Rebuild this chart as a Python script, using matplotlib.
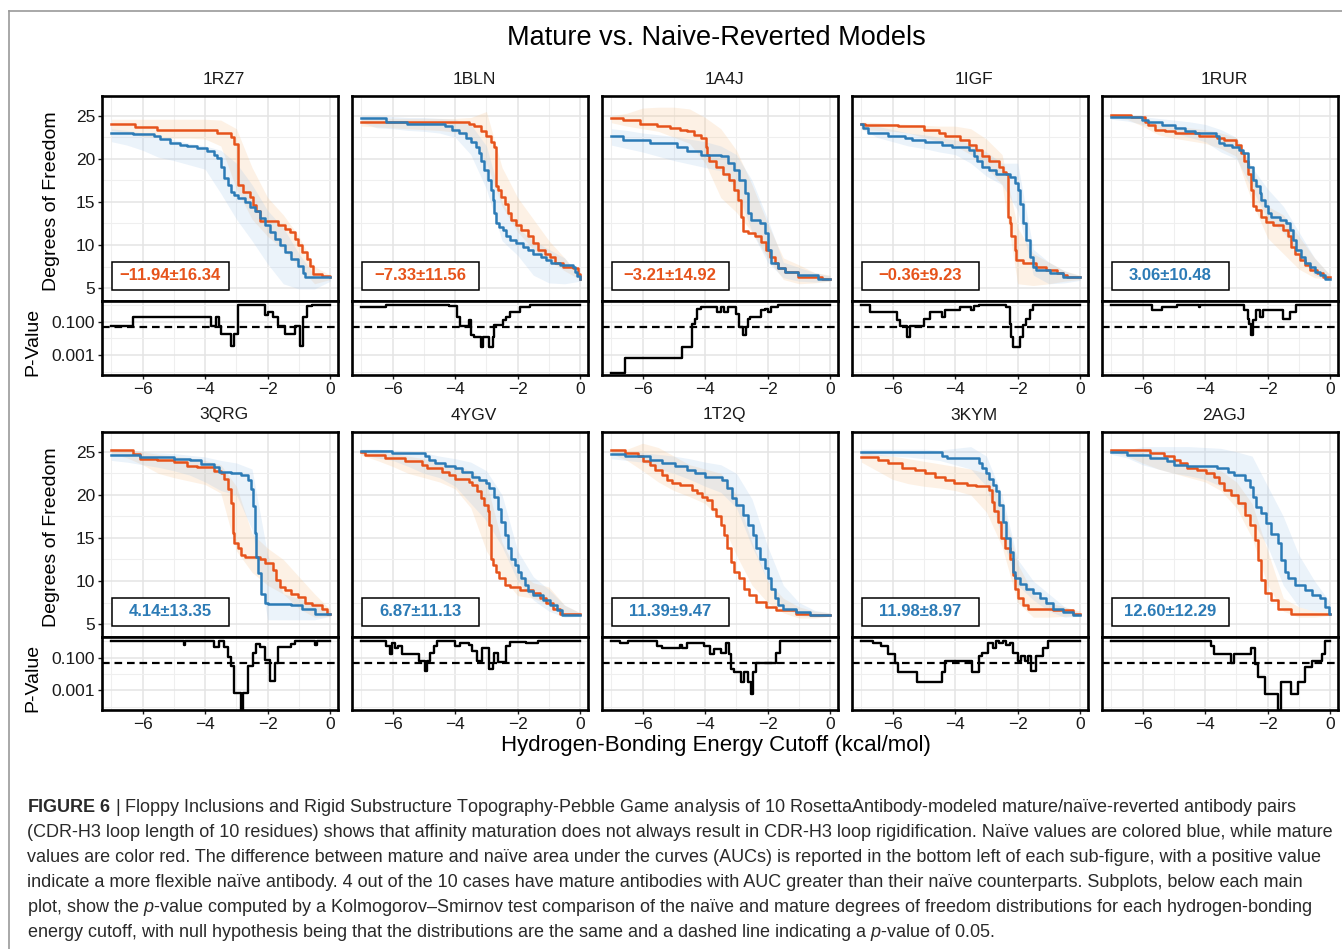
import numpy as np
import matplotlib
matplotlib.use('Agg')
import matplotlib.pyplot as plt
from matplotlib.patches import Rectangle
from matplotlib.lines import Line2D
from matplotlib.ticker import FixedLocator, NullFormatter
from matplotlib import font_manager

# ---------------- data ----------------
panels = ['1RZ7', '1BLN', '1A4J', '1IGF', '1RUR', '3QRG', '4YGV', '1T2Q', '3KYM', '2AGJ']
auc_mean = [-11.94, -7.33, -3.21, -0.36, 3.06, 4.14, 6.87, 11.39, 11.98, 12.60]
auc_sd = [16.34, 11.56, 14.92, 9.23, 10.48, 13.35, 11.13, 9.47, 8.97, 12.29]

x_ticks = [-6, -4, -2, 0]
dof_ticks = [5, 10, 15, 20, 25]
p_ticks = [0.1, 0.001]
p_tick_labels = ['0.100', '0.001']
p_threshold = 0.05

mature_x = [
    [-7, -6.24, -5.54, -3.61, -3.18, -3.07, -2.96, -2.94, -2.80, -2.58, -2.48, -2.37, -2.26, -1.67, -1.45, -1.29, -1.13, -1.02, -0.91, -0.75, -0.65, -0.54, -0.27, 0],
    [-7, -3.56, -3.39, -3.18, -3.02, -2.86, -2.75, -2.69, -2.64, -2.53, -2.42, -2.32, -2.21, -2.05, -1.89, -1.67, -1.51, -1.35, -1.13, -0.97, -0.81, -0.54, -0.22, -0.08, 0],
    [-7, -6.62, -6.08, -5.54, -5.11, -4.79, -4.57, -4.36, -4.14, -3.98, -3.93, -3.88, -3.66, -3.44, -3.23, -3.07, -2.96, -2.85, -2.80, -2.64, -2.42, -2.21, -2.05, -1.94, -1.78, -1.67, -1.45, -1.02, -0.27, 0],
    [-7, -6.90, -5.82, -5.01, -4.53, -4.31, -3.83, -3.56, -3.34, -3.13, -2.91, -2.59, -2.48, -2.37, -2.32, -2.26, -2.21, -2.10, -2.05, -1.83, -1.40, -1.08, -0.75, -0.54, -0.43, 0],
    [-7, -6.36, -5.93, -5.82, -5.60, -5.28, -4.96, -4.20, -3.61, -3.39, -3.02, -2.86, -2.75, -2.64, -2.53, -2.48, -2.37, -2.21, -2.05, -1.83, -1.51, -1.35, -1.24, -1.13, -0.97, -0.81, -0.65, -0.43, -0.22, 0],
    [-7, -6.30, -6.08, -5.54, -5.01, -4.57, -4.25, -3.71, -3.50, -3.39, -3.28, -3.18, -3.12, -3.07, -2.96, -2.85, -2.74, -2.26, -2.10, -1.83, -1.72, -1.61, -1.45, -1.24, -1.02, -0.81, -0.59, -0.27, -0.11, 0],
    [-7, -6.90, -6.25, -5.60, -5.06, -4.90, -4.42, -4.20, -3.99, -3.56, -3.45, -3.29, -3.18, -3.07, -2.96, -2.91, -2.86, -2.80, -2.69, -2.59, -2.42, -2.26, -1.94, -1.51, -1.29, -1.08, -0.86, -0.65, 0],
    [-7, -6.57, -6.14, -5.98, -5.77, -5.60, -5.39, -5.23, -5.06, -4.80, -4.42, -4.26, -4.09, -3.93, -3.77, -3.66, -3.50, -3.39, -3.29, -3.18, -3.07, -2.91, -2.75, -2.59, -2.37, -2.05, -1.72, -1.08, -0.65, 0],
    [-7, -6.47, -6.14, -5.71, -5.28, -4.96, -4.63, -4.31, -4.04, -3.61, -3.34, -2.91, -2.82, -2.75, -2.64, -2.53, -2.42, -2.26, -2.16, -2.10, -1.99, -1.83, -1.67, -0.86, -0.22, 0],
    [-7, -5.76, -5.33, -5.01, -4.79, -4.57, -4.25, -3.98, -3.71, -3.55, -3.39, -3.18, -2.96, -2.74, -2.58, -2.42, -2.31, -2.21, -2.10, -1.88, -1.67, -1.24, 0],
]
mature_y = [
    [24.0, 23.7, 23.4, 23.0, 22.5, 21.7, 20.7, 17.0, 16.2, 15.6, 14.6, 13.9, 12.8, 12.3, 11.9, 11.5, 10.7, 10.0, 9.2, 8.4, 7.6, 6.6, 6.4, 6.25],
    [24.3, 24.1, 23.8, 23.2, 22.6, 22.0, 21.4, 16.8, 16.4, 15.6, 14.8, 13.7, 12.9, 12.3, 11.7, 11.0, 10.2, 9.4, 9.0, 8.6, 7.9, 7.5, 7.3, 6.6, 6.1],
    [24.7, 24.5, 24.1, 23.8, 23.6, 23.4, 23.2, 22.8, 22.4, 21.4, 20.5, 19.7, 19.1, 18.3, 17.6, 16.4, 15.2, 13.3, 11.6, 11.4, 11.0, 10.4, 9.4, 8.6, 7.9, 7.3, 6.9, 6.3, 6.1, 6.1],
    [24.1, 23.95, 23.8, 23.4, 23.0, 22.6, 22.2, 21.6, 21.0, 20.3, 19.7, 19.1, 18.5, 18.3, 13.3, 12.5, 11.0, 9.4, 8.3, 7.9, 7.5, 7.1, 6.7, 6.5, 6.3, 6.3],
    [25.1, 24.9, 24.3, 23.95, 23.4, 23.2, 23.0, 22.6, 22.4, 22.2, 21.6, 20.7, 19.7, 18.3, 16.4, 14.5, 14.1, 13.3, 12.7, 12.3, 11.7, 11.0, 9.8, 9.0, 8.3, 7.7, 7.1, 6.7, 6.3, 6.3],
    [25.2, 24.8, 24.2, 24.0, 23.8, 23.4, 23.2, 22.8, 22.5, 21.9, 20.7, 19.1, 15.6, 14.4, 13.8, 13.0, 12.8, 12.5, 12.1, 11.3, 10.1, 9.3, 8.9, 8.5, 8.1, 7.5, 7.2, 6.8, 6.2, 6.2],
    [25.0, 24.65, 24.3, 23.9, 23.5, 23.1, 22.7, 22.3, 21.9, 21.55, 21.2, 20.4, 19.6, 18.8, 18.1, 16.5, 12.6, 11.9, 11.1, 10.3, 9.5, 9.3, 8.95, 8.6, 8.0, 7.4, 6.8, 6.2, 6.2],
    [25.2, 24.85, 24.5, 23.9, 23.5, 22.9, 22.3, 21.7, 21.4, 21.2, 20.6, 20.2, 19.8, 19.4, 18.4, 17.5, 16.5, 15.3, 13.8, 12.2, 11.1, 10.3, 9.1, 8.4, 7.6, 7.0, 6.6, 6.2, 6.1, 6.1],
    [24.4, 24.1, 23.7, 23.1, 22.9, 22.5, 22.1, 21.7, 21.4, 21.2, 21.0, 20.6, 19.2, 18.1, 16.9, 15.0, 13.8, 12.6, 10.7, 9.1, 8.0, 7.2, 6.8, 6.6, 6.2, 6.2],
    [25.2, 24.85, 24.5, 24.1, 23.7, 23.1, 22.9, 22.5, 22.1, 21.4, 20.6, 20.0, 19.0, 17.7, 16.5, 14.8, 12.4, 10.1, 8.6, 7.8, 6.8, 6.2, 6.2],
]
naive_x = [
    [-7, -6.30, -5.65, -5.44, -5.11, -4.79, -4.57, -4.25, -3.93, -3.71, -3.61, -3.50, -3.39, -3.28, -3.18, -3.07, -2.96, -2.74, -2.58, -2.42, -2.26, -2.10, -1.94, -1.78, -1.61, -1.45, -1.24, -1.02, -0.86, -0.81, 0],
    [-7, -6.20, -5.55, -4.31, -4.09, -3.88, -3.66, -3.50, -3.34, -3.23, -3.18, -3.07, -2.96, -2.86, -2.80, -2.75, -2.69, -2.59, -2.48, -2.37, -2.26, -2.05, -1.83, -1.67, -1.51, -1.24, -1.08, -0.92, -0.65, -0.22, -0.16, -0.09, 0],
    [-7, -6.62, -5.76, -4.90, -4.57, -4.14, -3.50, -3.28, -3.07, -2.91, -2.74, -2.64, -2.53, -2.26, -2.10, -1.99, -1.88, -1.67, -1.45, -1.02, -0.38, 0],
    [-7, -6.95, -6.79, -6.14, -5.60, -5.39, -4.96, -4.42, -4.09, -3.56, -3.39, -3.29, -3.13, -2.91, -2.69, -2.26, -2.10, -1.99, -1.94, -1.83, -1.72, -1.62, -1.51, -1.40, -0.97, -0.54, 0],
    [-7, -6.03, -5.82, -5.39, -4.96, -4.63, -4.31, -3.66, -3.56, -3.39, -3.13, -2.91, -2.80, -2.64, -2.48, -2.37, -2.26, -2.21, -2.10, -1.99, -1.89, -1.62, -1.40, -1.29, -1.18, -1.08, -0.92, -0.81, -0.65, -0.48, -0.32, -0.16, 0],
    [-7, -6.08, -5.01, -4.47, -4.14, -3.71, -3.55, -3.18, -2.85, -2.64, -2.53, -2.48, -2.42, -2.37, -2.31, -2.21, -2.10, -1.99, -1.24, -0.91, -0.48, 0],
    [-7, -6.03, -4.96, -4.85, -4.63, -4.31, -3.99, -3.77, -3.45, -3.23, -3.02, -2.91, -2.75, -2.64, -2.53, -2.42, -2.32, -2.21, -2.10, -1.99, -1.89, -1.78, -1.67, -1.51, -1.19, -0.97, -0.75, -0.59, 0],
    [-7, -6.57, -5.77, -5.39, -4.96, -4.58, -4.31, -3.99, -3.45, -3.29, -3.13, -3.02, -2.80, -2.64, -2.48, -2.37, -2.26, -2.10, -1.99, -1.89, -1.78, -1.67, -1.51, -1.08, -0.65, 0],
    [-7, -4.42, -4.26, -3.23, -3.13, -3.02, -2.91, -2.80, -2.69, -2.59, -2.48, -2.37, -2.26, -2.16, -2.10, -1.94, -1.72, -1.51, -1.29, -1.08, -0.86, -0.54, -0.22, 0],
    [-7, -6.51, -5.76, -5.22, -5.01, -4.57, -3.61, -3.28, -3.07, -2.74, -2.58, -2.48, -2.37, -2.21, -2.05, -1.88, -1.67, -1.56, -1.45, -1.35, -1.13, -0.81, -0.59, -0.32, -0.16, -0.05, 0],
]
naive_y = [
    [23.05, 22.85, 22.66, 22.27, 21.9, 21.6, 21.5, 21.3, 20.9, 20.5, 20.1, 19.0, 17.8, 17.0, 16.2, 15.8, 15.4, 15.0, 14.45, 13.9, 13.1, 12.3, 11.5, 10.7, 9.96, 9.2, 8.4, 7.6, 6.8, 6.25, 6.25],
    [24.7, 24.3, 24.1, 23.8, 23.4, 23.0, 22.4, 22.0, 21.4, 20.7, 19.7, 18.7, 17.6, 16.4, 15.2, 13.7, 12.5, 12.1, 11.7, 11.0, 10.6, 10.2, 9.8, 9.4, 9.0, 8.6, 8.3, 7.9, 7.7, 7.5, 6.9, 6.4, 6.1],
    [22.6, 22.2, 21.8, 21.4, 20.9, 20.5, 20.3, 19.5, 18.7, 17.6, 16.0, 13.7, 12.9, 12.5, 11.4, 9.4, 7.9, 7.3, 6.9, 6.5, 6.1, 6.1],
    [24.1, 23.6, 23.0, 22.6, 22.4, 22.2, 22.0, 21.6, 21.4, 21.0, 20.3, 19.7, 19.1, 18.7, 18.3, 17.9, 17.2, 16.4, 14.8, 12.5, 10.6, 8.6, 7.5, 7.1, 6.7, 6.3, 6.3],
    [24.9, 24.5, 24.3, 23.95, 23.6, 23.2, 23.0, 22.6, 21.8, 21.6, 21.4, 21.0, 20.7, 19.1, 17.6, 16.8, 16.0, 15.2, 14.5, 13.7, 13.3, 12.9, 12.5, 11.7, 10.6, 9.4, 8.6, 7.9, 7.5, 6.9, 6.5, 6.1, 6.1],
    [24.6, 24.4, 24.2, 24.0, 23.6, 23.2, 22.6, 22.5, 22.3, 21.7, 20.7, 18.7, 15.6, 12.8, 10.9, 8.5, 7.5, 7.35, 7.2, 6.8, 6.2, 6.2],
    [25.1, 24.85, 24.5, 24.1, 23.7, 23.3, 23.1, 22.7, 22.1, 21.7, 21.4, 20.8, 19.8, 18.4, 16.9, 15.3, 13.8, 12.6, 11.9, 11.1, 10.3, 9.5, 8.8, 8.4, 7.8, 7.2, 6.6, 6.1, 6.1],
    [24.7, 24.5, 24.1, 23.7, 23.3, 22.9, 22.5, 22.1, 21.7, 20.8, 19.6, 18.8, 17.7, 16.5, 15.3, 13.8, 12.6, 11.5, 10.3, 9.1, 8.0, 7.2, 6.8, 6.4, 6.1, 6.1],
    [24.95, 24.5, 24.3, 23.7, 23.1, 22.5, 21.9, 21.2, 20.4, 18.8, 16.9, 15.0, 13.4, 11.1, 10.3, 9.7, 9.1, 8.6, 8.0, 7.4, 6.8, 6.4, 6.1, 6.1],
    [25.0, 24.65, 24.3, 23.9, 23.5, 23.3, 23.1, 22.7, 22.3, 21.7, 20.9, 19.8, 18.6, 17.9, 16.7, 15.5, 14.4, 12.4, 11.1, 10.3, 9.5, 9.0, 8.4, 8.0, 7.0, 6.2, 6.2],
]

band_x = [-7, -6.5, -6, -5.5, -5, -4.5, -4, -3.5, -3, -2.5, -2, -1.5, -1, -0.5, 0]
mature_lo = [
    [23.3, 23.0, 22.6, 22.5, 22.4, 22.4, 22.3, 21.5, 16.5, 13.0, 11.0, 9.5, 7.5, 5.5, 6.0],
    [23.8, 23.7, 23.6, 23.5, 23.4, 23.3, 23.1, 22.5, 19.5, 14.5, 11.5, 9.5, 8.2, 7.0, 6.0],
    [24.2, 23.8, 23.5, 23.2, 22.5, 21.8, 19.5, 15.5, 13.8, 11.5, 8.5, 6.0, 5.5, 5.6, 5.8],
    [23.4, 23.3, 23.2, 23.0, 22.5, 22.0, 21.5, 20.5, 19.0, 17.0, 5.5, 5.3, 5.5, 5.8, 6.0],
    [24.8, 24.6, 23.8, 22.8, 22.4, 22.1, 21.8, 21.2, 20.3, 15.0, 10.8, 9.0, 7.2, 6.2, 6.0],
    [24.8, 24.3, 23.5, 22.5, 22.0, 21.6, 21.2, 20.2, 13.5, 11.0, 9.5, 8.5, 6.8, 5.8, 5.9],
    [24.6, 24.0, 23.3, 22.5, 22.0, 21.5, 20.7, 18.5, 13.5, 10.5, 8.3, 8.0, 7.2, 6.0, 6.0],
    [24.8, 24.0, 22.8, 21.5, 20.5, 19.8, 19.0, 17.0, 13.0, 9.5, 7.5, 6.3, 5.7, 5.7, 5.9],
    [23.8, 22.8, 21.8, 21.3, 21.0, 20.8, 20.5, 20.0, 18.0, 14.0, 7.5, 5.8, 5.8, 5.9, 6.0],
    [25.0, 24.5, 23.7, 23.0, 22.5, 22.0, 21.5, 20.5, 18.5, 15.0, 9.5, 6.5, 5.8, 5.8, 6.0],
]
mature_hi = [
    [24.6, 24.6, 24.6, 24.6, 24.6, 24.6, 24.6, 24.5, 23.5, 19.0, 15.5, 13.5, 11.0, 7.5, 6.5],
    [24.7, 24.7, 24.7, 24.7, 24.7, 24.7, 24.7, 24.8, 25.5, 19.0, 15.5, 13.0, 10.5, 8.5, 6.3],
    [25.0, 25.3, 25.9, 26.0, 26.0, 25.8, 24.8, 23.5, 21.0, 17.0, 12.5, 8.5, 7.7, 6.8, 6.5],
    [24.3, 24.2, 24.1, 24.0, 23.9, 23.8, 23.8, 23.5, 22.3, 20.5, 12.0, 9.0, 8.0, 7.0, 6.5],
    [25.3, 25.1, 24.8, 24.2, 23.8, 23.6, 23.4, 23.0, 22.5, 19.0, 14.5, 13.5, 11.0, 8.5, 6.5],
    [25.4, 25.2, 25.0, 24.7, 24.5, 24.3, 24.0, 23.5, 21.0, 15.5, 13.8, 12.5, 10.5, 8.5, 6.7],
    [25.2, 25.0, 24.8, 24.5, 24.2, 23.8, 23.4, 22.8, 21.5, 14.5, 11.0, 9.8, 9.3, 7.2, 6.3],
    [25.4, 25.3, 26.0, 25.5, 24.5, 23.5, 23.0, 22.5, 20.0, 14.5, 10.0, 8.0, 7.0, 6.5, 6.3],
    [24.9, 24.7, 24.5, 24.2, 23.9, 23.6, 23.3, 23.0, 22.5, 19.0, 12.0, 8.5, 7.5, 7.0, 6.5],
    [25.3, 25.2, 24.9, 24.5, 24.0, 23.5, 23.2, 22.8, 21.5, 19.0, 13.5, 8.0, 7.0, 6.5, 6.4],
]
naive_lo = [
    [22.0, 21.6, 21.0, 20.2, 19.8, 19.3, 18.8, 16.0, 13.0, 10.5, 7.8, 5.5, 4.9, 4.9, 5.8],
    [24.2, 23.6, 23.5, 23.3, 23.2, 23.0, 22.5, 20.5, 16.5, 10.5, 8.8, 6.5, 5.6, 5.5, 5.8],
    [21.6, 21.2, 20.8, 20.3, 19.8, 19.4, 19.0, 18.6, 16.5, 11.5, 8.0, 6.2, 5.8, 5.7, 5.8],
    [23.5, 22.5, 22.0, 21.5, 21.2, 20.8, 20.5, 19.5, 18.0, 17.0, 14.0, 6.5, 5.5, 5.6, 5.9],
    [24.6, 24.4, 24.0, 23.5, 23.0, 22.5, 22.0, 20.8, 20.0, 16.5, 13.0, 11.5, 8.8, 6.5, 5.9],
    [24.0, 23.8, 23.5, 23.2, 22.8, 22.3, 21.5, 20.5, 20.0, 16.0, 5.5, 5.5, 5.5, 5.5, 5.9],
    [24.7, 24.3, 24.0, 23.3, 22.5, 22.0, 21.0, 19.0, 17.0, 14.0, 10.0, 7.8, 6.5, 5.8, 5.9],
    [24.2, 24.0, 23.8, 23.0, 22.5, 21.8, 21.0, 20.3, 18.5, 14.0, 10.0, 7.0, 6.0, 5.8, 5.9],
    [24.6, 24.6, 24.5, 24.4, 24.2, 24.0, 23.5, 23.0, 21.0, 15.0, 9.5, 7.8, 6.5, 5.8, 5.9],
    [24.7, 24.3, 23.5, 23.0, 22.5, 22.2, 21.8, 21.0, 19.5, 17.0, 14.0, 9.5, 7.0, 6.5, 6.4],
]
naive_hi = [
    [23.5, 23.3, 23.0, 22.5, 22.2, 21.8, 21.5, 21.0, 19.5, 17.0, 14.0, 12.0, 9.0, 6.5, 6.3],
    [25.0, 25.0, 24.9, 24.8, 24.8, 24.7, 24.6, 24.0, 21.5, 15.0, 12.0, 10.5, 9.5, 8.5, 6.3],
    [23.5, 23.3, 23.0, 22.8, 22.6, 22.3, 22.0, 21.5, 20.5, 17.5, 13.0, 8.0, 7.4, 6.8, 6.4],
    [24.1, 23.8, 23.4, 23.0, 22.8, 22.5, 22.2, 21.8, 20.8, 19.5, 19.5, 9.5, 8.0, 7.0, 6.4],
    [25.2, 25.1, 24.9, 24.7, 24.5, 24.3, 24.0, 23.4, 22.5, 19.0, 16.5, 14.5, 11.5, 8.5, 6.5],
    [25.3, 25.2, 25.0, 24.9, 24.8, 24.6, 24.4, 24.0, 23.7, 23.0, 13.0, 8.5, 8.0, 7.3, 6.5],
    [25.3, 25.3, 25.2, 25.1, 24.9, 24.5, 24.2, 23.8, 22.8, 20.0, 13.5, 10.5, 9.0, 7.2, 6.3],
    [25.2, 25.0, 24.9, 24.7, 24.5, 24.2, 23.8, 23.5, 22.5, 19.5, 14.0, 9.5, 7.5, 6.6, 6.3],
    [25.3, 25.3, 25.3, 25.3, 25.3, 25.2, 25.4, 25.6, 24.5, 20.0, 12.5, 10.0, 8.5, 7.0, 6.3],
    [25.3, 25.2, 25.6, 25.6, 25.6, 25.6, 25.5, 25.4, 25.0, 24.5, 21.0, 17.5, 13.0, 10.0, 7.5],
]

pval_x = [
    [-7, -6.30, -3.82, -3.66, -3.55, -3.50, -3.18, -3.07, -2.96, -2.10, -1.99, -1.83, -1.67, -1.45, -1.13, -0.97, -0.86, -0.75, -0.59, 0],
    [-7, -6.2, -4.2, -3.93, -3.83, -3.56, -3.50, -3.39, -3.18, -3.12, -2.91, -2.80, -2.75, -2.48, -2.37, -2.26, -1.94, -1.62, 0],
    [-7, -6.57, -4.74, -4.41, -4.31, -4.25, -4.14, -3.61, -3.50, -3.39, -3.28, -3.01, -2.91, -2.80, -2.69, -2.64, -2.58, -2.21, -2.10, -1.99, -1.88, -1.67, 0],
    [-7, -6.73, -5.87, -5.77, -5.55, -5.44, -5.01, -4.80, -4.42, -4.31, -3.83, -3.50, -3.39, -3.23, -2.37, -2.26, -2.21, -2.16, -1.94, -1.83, -1.72, -1.62, -1.51, 0],
    [-7, -5.71, -5.39, -4.90, -4.20, -4.15, -2.75, -2.64, -2.59, -2.53, -2.48, -2.37, -2.26, -2.16, -1.51, -1.29, -1.08, 0],
    [-7, -4.68, -4.63, -3.71, -3.55, -3.39, -3.28, -3.18, -3.07, -2.85, -2.80, -2.64, -2.48, -2.37, -2.26, -2.10, -1.94, -1.78, -1.67, -1.24, -1.13, -0.48, -0.43, 0],
    [-7, -6.20, -6.09, -6.03, -5.93, -5.82, -5.71, -5.17, -4.96, -4.90, -4.80, -4.69, -4.58, -3.99, -3.83, -3.56, -3.45, -3.29, -3.13, -2.91, -2.80, -2.75, -2.64, -2.37, -2.26, -1.72, -1.35, 0],
    [-7, -6.73, -6.47, -5.55, -5.39, -4.80, -4.74, -4.58, -4.04, -3.83, -3.72, -3.50, -3.34, -3.23, -3.18, -3.07, -2.86, -2.75, -2.64, -2.53, -2.48, -2.37, -1.72, -1.62, 0],
    [-7, -6.63, -6.36, -6.14, -5.93, -5.82, -5.23, -4.42, -4.31, -3.45, -3.23, -3.13, -2.96, -2.80, -2.69, -2.59, -2.48, -2.37, -2.26, -2.16, -1.99, -1.89, -1.78, -1.67, -1.56, -1.40, -1.19, -1.02, 0],
    [-7, -3.82, -3.71, -3.18, -3.07, -2.53, -2.42, -2.31, -2.10, -1.67, -1.56, -1.24, -1.02, -0.81, -0.59, -0.27, -0.16, 0],
]
pval_y = [
    [0.06, 0.2, 0.06, 0.2, 0.06, 0.018, 0.0033, 0.018, 1.0, 0.26, 0.42, 0.2, 0.06, 0.018, 0.06, 0.0033, 0.2, 0.87, 1.0, 1.0],
    [0.79, 1.0, 0.87, 0.2, 0.055, 0.126, 0.016, 0.0126, 0.0032, 0.0126, 0.0032, 0.0126, 0.063, 0.126, 0.2, 0.4, 0.79, 1.0, 1.0],
    [8e-5, 6.3e-4, 0.0032, 0.08, 0.16, 0.63, 0.8, 0.4, 0.8, 0.4, 0.8, 0.32, 0.05, 0.016, 0.05, 0.16, 0.2, 0.5, 0.63, 0.4, 0.8, 1.0, 1.0],
    [1.0, 0.4, 0.126, 0.055, 0.0126, 0.055, 0.16, 0.4, 0.2, 0.5, 0.8, 0.5, 0.87, 1.0, 0.8, 0.08, 0.0126, 0.0032, 0.0126, 0.063, 0.16, 0.5, 1.0, 1.0],
    [1.0, 0.5, 0.8, 1.0, 0.8, 1.0, 0.5, 0.16, 0.08, 0.016, 0.126, 0.5, 0.2, 0.5, 0.16, 0.4, 1.0, 1.0],
    [1.0, 0.57, 1.0, 0.46, 1.0, 0.46, 0.115, 0.029, 7.2e-4, 3e-5, 7.2e-4, 0.029, 0.18, 0.72, 0.46, 0.07, 0.0036, 0.046, 0.46, 0.72, 1.0, 0.57, 1.0, 1.0],
    [1.0, 0.5, 0.16, 0.8, 0.4, 0.5, 0.16, 0.063, 0.016, 0.063, 0.2, 0.5, 1.0, 0.5, 0.8, 0.63, 0.25, 0.063, 0.4, 0.02, 0.05, 0.2, 0.055, 0.5, 0.87, 0.8, 1.0, 1.0],
    [1.0, 0.8, 1.0, 0.5, 0.4, 0.63, 0.4, 0.8, 0.5, 0.16, 0.32, 0.2, 0.8, 0.16, 0.02, 0.0126, 0.0032, 0.0126, 0.0032, 6.3e-4, 0.0126, 0.05, 0.2, 1.0, 1.0],
    [1.0, 0.8, 0.5, 0.16, 0.05, 0.0126, 0.0032, 0.0126, 0.063, 0.0126, 0.126, 0.2, 0.8, 0.4, 1.0, 0.8, 1.0, 0.63, 0.8, 0.2, 0.063, 0.126, 0.063, 0.126, 0.016, 0.126, 0.4, 1.0, 1.0],
    [1.0, 0.5, 0.16, 0.05, 0.16, 0.4, 0.04, 0.0063, 6.3e-4, 6e-5, 0.0032, 6.3e-4, 0.0032, 0.025, 0.063, 0.16, 1.0, 1.0],
]

caption_lines = [
    r'$\mathbf{FIGURE\ 6}$ | Floppy Inclusions and Rigid Substructure Topography-Pebble Game analysis of 10 RosettaAntibody-modeled mature/naïve-reverted antibody pairs',
    '(CDR-H3 loop length of 10 residues) shows that affinity maturation does not always result in CDR-H3 loop rigidification. Naïve values are colored blue, while mature',
    'values are color red. The difference between mature and naïve area under the curves (AUCs) is reported in the bottom left of each sub-figure, with a positive value',
    'indicate a more flexible naïve antibody. 4 out of the 10 cases have mature antibodies with AUC greater than their naïve counterparts. Subplots, below each main',
    r'plot, show the $\mathit{p}$-value computed by a Kolmogorov–Smirnov test comparison of the naïve and mature degrees of freedom distributions for each hydrogen-bonding',
    r'energy cutoff, with null hypothesis being that the distributions are the same and a dashed line indicating a $\mathit{p}$-value of 0.05.',
]

# ---------------- style ----------------
RED = '#E6531B'
BLUE = '#2C7BB6'
RED_BAND = '#F8C28A'
BLUE_BAND = '#9CC3EA'

names = {f.name for f in font_manager.fontManager.ttflist}
main_font = 'Liberation Sans' if 'Liberation Sans' in names else 'DejaVu Sans'
cap_font = 'Liberation Sans Narrow' if 'Liberation Sans Narrow' in names else main_font

plt.rcParams['font.family'] = [main_font, 'DejaVu Sans']
plt.rcParams['lines.scale_dashes'] = False
plt.rcParams['mathtext.fontset'] = 'custom'
plt.rcParams['mathtext.rm'] = cap_font
plt.rcParams['mathtext.it'] = cap_font + ':italic'
plt.rcParams['mathtext.bf'] = cap_font + ':bold'

W, H = 1342, 949
fig = plt.figure(figsize=(W / 100, H / 100), dpi=100)
fig.patch.set_facecolor('white')


def fx(px):
    return px / W


def fy(py):
    return 1 - py / H


col_left = [102, 352, 602, 852, 1102]
PW = 236
rows = [(96, 301, 375), (432, 637, 710)]

for i, name in enumerate(panels):
    r, c = divmod(i, 5)
    top, mid, bot = rows[r]
    L = col_left[c]
    axm = fig.add_axes([fx(L), fy(mid), PW / W, (mid - top) / H])
    axp = fig.add_axes([fx(L), fy(bot), PW / W, (bot - mid) / H])

    for ax in (axm, axp):
        ax.set_facecolor('white')
        ax.set_axisbelow(True)
        for s in ax.spines.values():
            s.set_linewidth(1.9)
            s.set_color('black')
        ax.set_xlim(-7.3, 0.25)
        ax.set_xticks(x_ticks)
        ax.set_xticks([-7, -5, -3, -1], minor=True)
        ax.grid(which='major', color='#E4E4E4', lw=1.1)
        ax.grid(which='minor', color='#EFEFEF', lw=0.8)

    # main panel
    axm.set_ylim(3.5, 27.3)
    axm.set_yticks(dof_ticks)
    axm.set_yticks([7.5, 12.5, 17.5, 22.5], minor=True)
    axm.tick_params(axis='x', which='both', length=0, labelbottom=False)
    axm.tick_params(axis='y', which='minor', length=0)
    if c == 0:
        axm.tick_params(axis='y', which='major', length=3, width=1, labelsize=12.5, pad=2, colors='#1a1a1a')
    else:
        axm.tick_params(axis='y', which='major', length=0, labelleft=False)

    axm.fill_between(band_x, mature_lo[i], mature_hi[i], color=RED_BAND, alpha=0.22, lw=0, zorder=1)
    axm.fill_between(band_x, naive_lo[i], naive_hi[i], color=BLUE_BAND, alpha=0.2, lw=0, zorder=1.1)
    axm.plot(mature_x[i], mature_y[i], drawstyle='steps-post', color=RED, lw=1.8, zorder=3)
    axm.plot(naive_x[i], naive_y[i], drawstyle='steps-post', color=BLUE, lw=1.8, zorder=3.1)

    m, sd = auc_mean[i], auc_sd[i]
    lab = f'{m:.2f}±{sd:.2f}'.replace('-', '−')
    axm.add_patch(Rectangle((0.041, 0.054), 0.496, 0.138, transform=axm.transAxes,
                            facecolor='white', edgecolor='black', lw=1.1, zorder=5))
    axm.text(0.289, 0.123, lab, transform=axm.transAxes, ha='center', va='center',
             fontsize=12, fontweight='bold', color=RED if m < 0 else BLUE, zorder=6)

    # p-value panel
    axp.set_yscale('log')
    axp.set_ylim(10 ** -4.2, 10 ** 0.26)
    axp.yaxis.set_major_locator(FixedLocator(p_ticks))
    axp.set_yticklabels(p_tick_labels)
    axp.yaxis.set_minor_locator(FixedLocator([1.0, 0.01, 1e-4]))
    axp.yaxis.set_minor_formatter(NullFormatter())
    axp.tick_params(axis='y', which='minor', length=0)
    axp.tick_params(axis='x', which='minor', length=0)
    axp.tick_params(axis='x', which='major', length=3, width=1, labelsize=12.5, pad=2, colors='#1a1a1a')
    if c == 0:
        axp.tick_params(axis='y', which='major', length=3, width=1, labelsize=12.5, pad=2, colors='#1a1a1a')
    else:
        axp.tick_params(axis='y', which='major', length=0, labelleft=False)
    axp.axhline(p_threshold, color='black', lw=1.6, dashes=(5.5, 3.5), zorder=2)
    axp.plot(pval_x[i], pval_y[i], drawstyle='steps-post', color='black', lw=1.7, zorder=3)

    fig.text(fx(L + PW / 2 + 4), fy(top - 17), name, ha='center', va='center', fontsize=12.5, color='#1a1a1a')

# axis labels
for r, (top, mid, bot) in enumerate(rows):
    fig.text(fx(52), fy((top + mid) / 2 + 3), 'Degrees of Freedom', rotation=90, ha='center', va='center', fontsize=14)
    fig.text(fx(33), fy((mid + bot) / 2 + 4), 'P-Value', rotation=90, ha='center', va='center', fontsize=14)

fig.text(fx(716), fy(746), 'Hydrogen-Bonding Energy Cutoff (kcal/mol)', ha='center', va='center', fontsize=16)
fig.text(fx(716), fy(38), 'Mature vs. Naive-Reverted Models', ha='center', va='center', fontsize=19.5)

# caption, fitted to the column width
renderer = fig.canvas.get_renderer()
targets = [1297, 1328, 1317, 1305, 1326]
ratios = []
for line, tgt in zip(caption_lines[:5], targets):
    t = fig.text(0, 0, line, fontsize=12)
    w = t.get_window_extent(renderer).width
    t.remove()
    ratios.append((tgt - 27) / w)
cap_size = 12 * float(np.median(ratios))
cap_y = [807, 832, 857, 882, 907, 932]
for line, yy in zip(caption_lines, cap_y):
    fig.text(fx(27), fy(yy + 5), line, ha='left', va='baseline', fontsize=cap_size,
             family=cap_font, color='#2a2a2a')

# page frame
fig.add_artist(Line2D([fx(9), 1], [fy(11), fy(11)], color='#9a9a9a', lw=1.2))
fig.add_artist(Line2D([fx(9), fx(9)], [fy(11), 0], color='#9a9a9a', lw=1.2))

fig.savefig('out.png', dpi=100, facecolor='white')
